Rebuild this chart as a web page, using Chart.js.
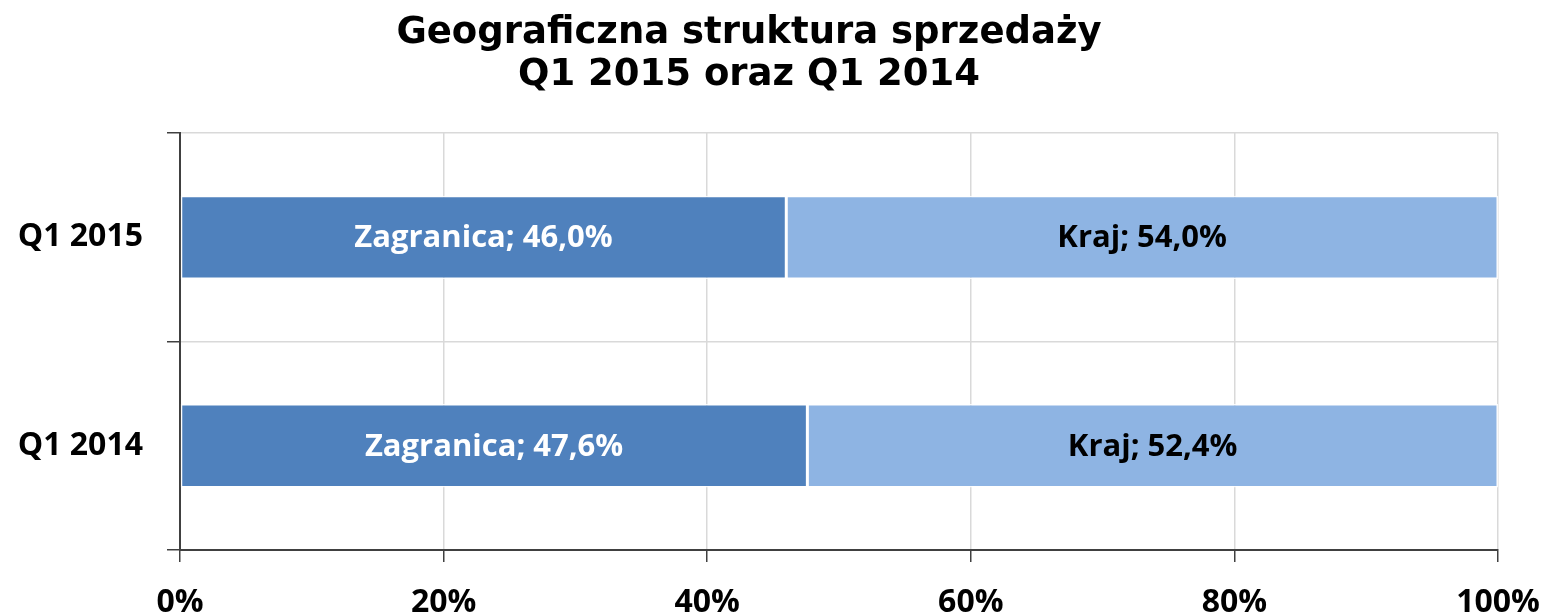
<!DOCTYPE html>
<html>
<head>
<meta charset="utf-8">
<script src="https://cdn.jsdelivr.net/npm/chart.js@4"></script>
<style>
  html, body { margin:0; padding:0; background:#fff; }
  #wrap { width:1544px; height:614px; }
</style>
</head>
<body>
<div id="wrap"><canvas id="c" width="1544" height="614"></canvas></div>
<script>
// data
const categories = ['Q1 2015', 'Q1 2014'];
const zagranica = [46.0, 47.6];
const kraj = [54.0, 52.4];
const seriesNames = ['Zagranica', 'Kraj'];
const xTicks = [0, 20, 40, 60, 80, 100];

const labelFont = '"Open Sans", sans-serif';

// draws "Name; 46,0%" in the middle of each bar segment
const segLabels = {
  id: 'segLabels',
  afterDatasetsDraw(chart) {
    const ctx = chart.ctx;
    ctx.save();
    ctx.font = 'bold 31px ' + labelFont;
    ctx.textAlign = 'center';
    ctx.textBaseline = 'middle';
    chart.data.datasets.forEach((ds, i) => {
      const meta = chart.getDatasetMeta(i);
      meta.data.forEach((bar, j) => {
        const p = bar.getProps(['x', 'y', 'base'], true);
        const cx = (p.x + p.base) / 2;
        ctx.fillStyle = i === 0 ? '#ffffff' : '#000000';
        const txt = ds.label + '; ' + ds.data[j].toFixed(1).replace('.', ',') + '%';
        ctx.fillText(txt, cx, p.y + 1);
      });
    });
    ctx.restore();
  }
};

new Chart(document.getElementById('c').getContext('2d'), {
  type: 'bar',
  data: {
    labels: categories,
    datasets: [
      { label: seriesNames[0], data: zagranica, backgroundColor: '#4f81bd', borderColor: 'rgba(255,255,255,0.85)', borderWidth: 1.5, borderSkipped: false },
      { label: seriesNames[1], data: kraj, backgroundColor: '#8eb4e3', borderColor: 'rgba(255,255,255,0.85)', borderWidth: 1.5, borderSkipped: false }
    ]
  },
  plugins: [segLabels],
  options: {
    indexAxis: 'y',
    responsive: false,
    animation: false,
    events: [],
    layout: { padding: { left: 0, right: 46, top: 0, bottom: 0 } },
    datasets: { bar: { categoryPercentage: 1, barPercentage: 0.4 } },
    plugins: {
      legend: { display: false },
      tooltip: { enabled: false },
      title: {
        display: true,
        text: ['Geograficzna struktura sprzedaży', 'Q1 2015 oraz Q1 2014'],
        color: '#000',
        font: { family: '"DejaVu Sans", sans-serif', size: 37, weight: 'bold', lineHeight: 1.15 },
        padding: { top: 12, bottom: 36 }
      }
    },
    scales: {
      x: {
        stacked: true,
        min: 0, max: 100,
        afterBuildTicks: s => { s.ticks = xTicks.map(v => ({ value: v })); },
        afterFit: s => { s.height = 64; s.paddingRight = 0; s.paddingLeft = 0; },
        ticks: {
          callback: v => v + '%',
          color: '#000',
          font: { family: labelFont, size: 32, weight: 'bold' },
          padding: 22,
          maxRotation: 0
        },
        grid: { color: '#d9d9d9', lineWidth: 1.5, tickColor: '#404040', tickLength: 12 },
        border: { display: true, color: '#404040', width: 2 }
      },
      y: {
        stacked: true,
        afterFit: s => { s.width = 180; },
        ticks: {
          color: '#000',
          font: { family: labelFont, size: 32, weight: 'bold' },
          padding: 24
        },
        grid: { offset: true, color: '#d9d9d9', lineWidth: 1.5, tickColor: '#404040', tickLength: 13 },
        border: { display: true, color: '#404040', width: 2 }
      }
    }
  }
});
</script>
</body>
</html>
